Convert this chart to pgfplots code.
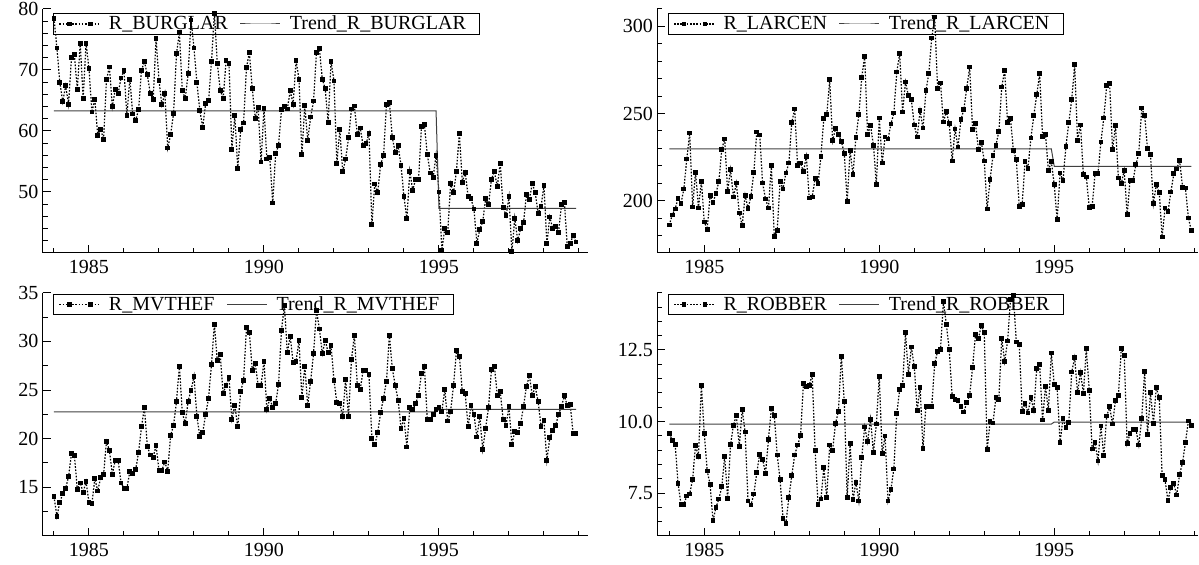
\documentclass[border=0pt]{standalone}
\usepackage{fontspec}
\setmainfont{Liberation Serif}
\usepackage{pgfplots}
\usepackage{pgfplotstable}
\pgfplotsset{compat=1.18}

% monthly series, t = months since Jan 1984
\pgfplotstableread{
t burglar larcen mvthef robber
0 78.5 186.0 14.07 9.58
1 73.6 191.8 12.02 9.35
2 68.0 195.2 13.46 9.20
3 64.8 201.3 14.35 7.84
4 67.4 198.3 14.86 7.11
5 64.4 206.7 16.13 7.11
6 72.0 223.9 18.46 7.40
7 72.5 238.8 18.29 7.47
8 66.8 196.4 14.76 7.98
9 74.4 216.4 15.45 9.16
10 65.3 195.8 14.49 8.79
11 74.4 211.1 15.58 11.27
12 70.2 187.8 13.46 9.58
13 63.1 183.7 13.32 8.27
14 65.2 203.1 15.89 7.80
15 59.2 199.0 14.62 6.53
16 60.3 204.0 15.99 7.00
17 58.6 211.1 16.34 7.29
18 68.4 229.6 19.70 7.72
19 70.5 235.4 18.81 8.79
20 64.0 205.5 16.34 7.32
21 66.8 217.8 17.78 9.19
22 66.2 202.1 17.78 9.87
23 68.7 210.1 15.45 10.21
24 69.9 192.9 14.90 9.14
25 62.5 185.7 14.90 10.43
26 68.5 203.1 16.61 9.63
27 62.8 195.4 16.41 7.22
28 61.7 202.5 16.82 7.08
29 63.5 216.4 18.57 7.47
30 69.9 239.4 21.21 8.21
31 71.4 237.7 23.20 8.85
32 69.2 210.1 19.22 8.68
33 66.2 201.0 18.33 8.19
34 65.1 195.8 18.09 9.37
35 75.2 220.1 19.29 10.45
36 68.3 179.5 16.75 10.21
37 64.3 182.8 16.75 8.83
38 66.2 211.1 17.61 7.96
39 57.2 206.7 16.65 6.60
40 59.4 215.9 20.32 6.45
41 62.9 221.6 21.38 7.35
42 72.7 244.9 23.81 8.10
43 76.1 252.6 27.45 8.83
44 66.6 220.1 22.68 9.18
45 65.3 221.6 21.55 9.50
46 69.4 216.6 23.85 11.32
47 78.2 225.4 24.98 11.23
48 73.6 201.5 26.42 11.27
49 67.9 202.1 22.30 11.64
50 63.4 212.8 20.25 9.00
51 60.6 209.8 20.62 7.11
52 64.5 225.4 22.51 7.29
53 65.0 247.0 24.16 8.39
54 71.4 249.3 27.62 7.35
55 79.3 269.4 31.77 9.18
56 71.1 234.4 28.00 9.00
57 66.7 241.3 28.68 9.93
58 65.3 238.2 24.64 10.36
59 71.5 234.0 25.49 12.28
60 71.1 227.3 26.28 10.71
61 57.0 199.4 22.00 7.35
62 62.6 228.9 23.44 9.23
63 53.9 214.9 21.21 7.28
64 60.2 236.3 24.81 7.87
65 61.3 249.3 26.01 7.22
66 70.4 270.9 31.39 8.75
67 72.9 282.8 30.91 9.81
68 66.9 237.9 27.04 9.29
69 62.1 243.2 27.72 10.08
70 63.9 231.9 25.49 8.92
71 54.9 209.2 25.49 9.91
72 63.7 247.4 27.96 11.58
73 55.4 221.6 22.99 8.89
74 55.7 236.5 24.12 9.49
75 48.2 235.4 23.20 7.22
76 56.3 244.0 23.61 7.63
77 57.6 250.3 25.60 8.34
78 63.5 273.8 31.15 10.28
79 64.0 284.3 33.72 11.11
80 63.6 250.9 28.89 11.27
81 66.6 268.1 30.47 13.10
82 64.4 260.2 27.83 11.65
83 71.6 257.9 27.96 12.60
84 68.5 243.4 30.05 11.93
85 56.2 236.5 24.22 10.39
86 64.2 251.6 27.45 11.18
87 58.5 241.7 23.44 9.06
88 62.3 263.1 25.91 10.53
89 64.9 273.2 28.75 10.53
90 72.9 293.3 33.21 10.53
91 73.5 305.4 31.26 12.02
92 68.5 264.6 28.75 12.45
93 66.9 267.5 30.12 12.52
94 61.4 245.1 28.82 14.20
95 71.4 251.3 29.54 13.39
96 68.2 244.2 26.01 12.51
97 54.7 222.8 23.68 10.88
98 60.3 241.1 23.61 10.78
99 53.3 230.8 22.30 10.74
100 55.4 246.5 26.08 10.53
101 58.9 252.2 22.30 10.33
102 63.6 264.6 28.13 10.65
103 64.1 276.7 30.64 10.92
104 59.4 240.7 25.49 11.88
105 60.5 244.2 25.05 13.04
106 57.6 229.6 27.04 12.89
107 57.9 233.5 27.04 13.36
108 59.6 222.8 26.56 13.12
109 44.7 195.2 20.01 9.02
110 51.3 212.0 19.39 9.99
111 49.9 225.8 20.62 9.95
112 54.5 231.9 22.68 10.84
113 56.0 239.6 24.16 10.77
114 64.4 265.2 25.91 12.89
115 64.7 274.8 30.64 12.10
116 58.9 244.9 27.21 12.81
117 56.5 247.0 25.46 14.25
118 57.6 228.9 23.95 14.39
119 54.3 223.5 21.07 12.78
120 49.2 196.7 22.06 12.69
121 45.6 197.7 19.15 10.36
122 53.4 222.6 23.20 10.63
123 50.3 218.7 22.99 10.30
124 52.1 236.0 23.61 10.84
125 52.0 248.8 24.47 10.39
126 60.7 260.8 26.69 11.85
127 61.0 272.9 27.45 11.99
128 56.2 236.9 21.96 10.05
129 53.1 237.9 21.96 11.21
130 52.4 217.2 22.48 10.39
131 56.0 222.6 22.99 12.39
132 50.0 209.2 23.20 11.29
133 40.5 189.1 22.82 11.18
134 44.0 215.9 25.05 9.27
135 43.4 211.5 21.82 10.10
136 51.4 231.0 22.82 9.78
137 49.9 244.9 25.49 9.97
138 53.4 257.9 29.09 11.73
139 59.6 278.0 28.44 12.23
140 51.6 234.4 24.88 11.01
141 53.2 243.4 24.64 11.71
142 49.3 214.9 21.21 10.98
143 48.9 213.6 23.40 12.54
144 47.2 196.2 22.48 11.09
145 41.6 196.7 20.18 9.04
146 43.9 215.5 22.24 9.27
147 45.1 215.5 18.91 8.62
148 48.9 233.7 21.07 9.84
149 47.9 247.4 23.23 8.80
150 52.1 266.2 27.14 10.19
151 53.3 267.1 27.45 10.51
152 50.9 229.3 24.47 9.91
153 54.7 243.0 24.84 10.74
154 47.5 213.0 22.00 10.91
155 46.1 209.8 21.38 12.54
156 49.2 217.4 23.30 12.31
157 40.2 192.0 19.42 9.23
158 45.7 211.7 20.73 9.58
159 42.0 211.5 20.62 9.73
160 44.0 220.7 21.55 9.73
161 45.0 227.3 23.33 9.18
162 49.6 253.2 25.39 10.10
163 48.8 248.8 26.45 11.75
164 51.4 229.8 24.47 9.54
165 49.9 226.4 25.32 11.01
166 46.5 198.3 23.85 9.93
167 47.6 209.2 21.21 11.18
168 51.1 204.8 21.89 10.84
169 41.5 179.2 17.78 8.10
170 45.9 195.8 20.08 7.96
171 44.0 193.7 20.86 7.24
172 44.3 205.0 21.34 7.70
173 43.4 215.5 22.51 7.82
174 47.9 218.2 23.30 7.43
175 48.3 223.1 24.43 8.16
176 41.1 207.8 23.40 8.56
177 41.5 207.3 23.54 9.27
178 42.9 190.1 20.52 10.02
179 41.8 183.0 20.52 9.87
}\crime

\pgfplotsset{
  panel/.style={
    scale only axis,
    axis x line*=bottom, axis y line*=left,
    axis line style={-, line width=0.5pt},
    tick align=inside, major tick length=4pt, minor tick length=2.5pt,
    every tick/.style={black, line width=0.5pt},
    xtick={12,72,132}, xticklabels={1985,1990,1995},
    minor xtick={0,24,36,48,60,84,96,108,120,144,156,168,180},
    ticklabel style={font=\fontsize{10}{12}\selectfont},
    yticklabel style={inner xsep=2pt},
    /pgf/number format/assume math mode=true,
    clip=false,
    legend columns=2,
    legend image code/.code={
      \draw[##1, mark indices={2,3}] plot coordinates {(0pt,0pt) (5pt,0pt) (15.5pt,0pt) (20pt,0pt)};
    },
    legend style={at={(0,1)}, anchor=north west, xshift=5.3pt, yshift=-2.2pt,
      fill=none, draw=black, line width=0.5pt, inner xsep=2.5pt, inner ysep=0.3pt,
      font=\fontsize{10}{12}\selectfont,
      nodes={inner xsep=4.5pt, inner ysep=0.5pt, text height=7pt, text depth=1.5pt},
      /tikz/every even column/.append style={column sep=1.5pt}},
  },
  data/.style={black, line width=0.6pt, dash pattern=on 0.8pt off 0.8pt,
    mark=square*, mark size=0.9pt, mark options={solid}},
  trend/.style={black!75, line width=0.5pt, no marks},
}

\begin{document}
\begin{tikzpicture}

% top left
\begin{axis}[panel, at={(21.35pt,156pt)}, anchor=south west,
  width=272.65pt, height=122pt,
  xmin=-3.87, xmax=183.1, ymin=40, ymax=80,
  ytick={50,60,70,80}, minor ytick={42,44,...,78}]
\addplot[data] table[x=t, y=burglar] {\crime};
\addlegendentry{R\_BURGLAR}
\addplot[trend] coordinates {(0,63.3) (131,63.3) (132,47.3) (179,47.3)};
\addlegendentry{Trend\_R\_BURGLAR}
\end{axis}

% top right
\begin{axis}[panel, at={(328.65pt,156pt)}, anchor=south west,
  width=270.35pt, height=122pt,
  xmin=-4.11, xmax=181.3, ymin=170, ymax=310,
  ytick={200,250,300}, minor ytick={180,190,...,310}]
\addplot[data] table[x=t, y=larcen] {\crime};
\addlegendentry{R\_LARCEN}
\addplot[trend] coordinates {(0,229.8) (131,229.8) (132,219.7) (179,219.7)};
\addlegendentry{Trend\_R\_LARCEN}
\end{axis}

% bottom left
\begin{axis}[panel, at={(21.35pt,14.5pt)}, anchor=south west,
  width=272.65pt, height=121.65pt,
  xmin=-3.87, xmax=183.1, ymin=10, ymax=35,
  ytick={15,20,25,30,35}, minor ytick={12.5,15,...,35},
  legend style={yshift=1.5pt}]
\addplot[data] table[x=t, y=mvthef] {\crime};
\addlegendentry{R\_MVTHEF}
\addplot[trend] coordinates {(0,22.75) (131,22.75) (132,23.0) (179,23.0)};
\addlegendentry{Trend\_R\_MVTHEF}
\end{axis}

% bottom right
\begin{axis}[panel, at={(328.65pt,14.5pt)}, anchor=south west,
  width=270.35pt, height=121.65pt,
  xmin=-4.11, xmax=181.3, ymin=6, ymax=14.5,
  ytick={7.5,10,12.5}, minor ytick={6.5,7,...,14.5},
  yticklabel style={/pgf/number format/.cd, fixed, fixed zerofill, precision=1},
  legend style={yshift=1.5pt}]
\addplot[data] table[x=t, y=robber] {\crime};
\addlegendentry{R\_ROBBER}
\addplot[trend] coordinates {(0,9.91) (131,9.91) (132,9.98) (179,9.98)};
\addlegendentry{Trend\_R\_ROBBER}
\end{axis}

\pgfresetboundingbox
\path[use as bounding box] (0,0) rectangle (599.5pt,282.5pt);
\end{tikzpicture}
\end{document}
